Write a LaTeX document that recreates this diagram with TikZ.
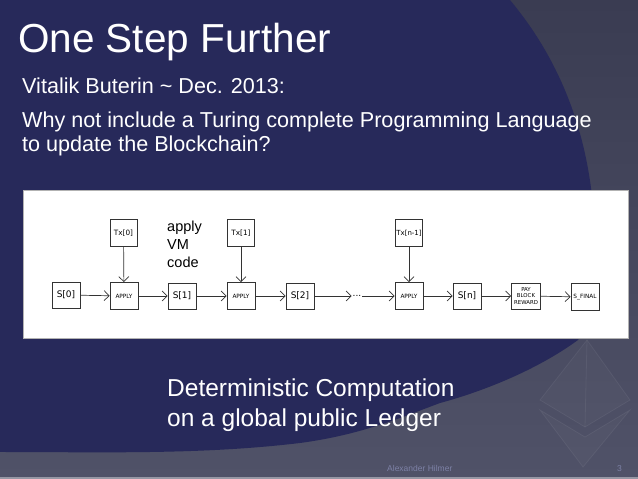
\documentclass[tikz,border=0pt]{standalone}
\usepackage{fontspec}
\setmainfont{Liberation Sans}
\newfontfamily\diafont{DejaVu Sans}
\usetikzlibrary{arrows.meta}
\definecolor{navy}{HTML}{27295A}
\definecolor{greytop}{HTML}{3A3C52}
\definecolor{greybot}{HTML}{505268}
\definecolor{footgrey}{HTML}{7D81A6}
\definecolor{boxline}{HTML}{333333}
\tikzset{
  statebox/.style={draw=boxline, line width=0.8pt, fill=white, inner sep=0pt,
    minimum width=28pt, minimum height=26pt, font=\diafont\fontsize{9}{10}\selectfont},
  applybox/.style={statebox, minimum height=27pt, font=\diafont\fontsize{5.8}{6}\selectfont},
  txbox/.style={statebox, minimum width=27pt, minimum height=27pt, font=\diafont\fontsize{7.3}{8}\selectfont},
  flow/.style={draw=boxline, line width=0.7pt, -{Straight Barb[length=5pt,width=10pt]}},
}
\begin{document}
\begin{tikzpicture}[x=1pt,y=1pt]
    \useasboundingbox (0,0) rectangle (638,479);
    % background
    \shade[top color=greytop, bottom color=greybot] (0,0) rectangle (638,479);
    \fill[navy] (0,479) -- (510,479) .. controls (560,419) and (595,339) .. (595,229)
        .. controls (595,179) and (590,154) .. (578,139)
        .. controls (530,104) and (470,84) .. (440,76)
        .. controls (400,61) and (360,44) .. (300,36)
        .. controls (200,24) and (100,27) .. (0,27) -- cycle;
    \fill[white!40!greybot] (0,0) rectangle (638,2);
    % faint logo
    \begin{scope}[draw=white, draw opacity=0.06, fill=white, fill opacity=0.025, line width=0.8pt]
        \filldraw (587,139) -- (540,79) -- (585,52) -- (630,79) -- cycle;
        \filldraw (540,69) -- (583,12) -- (630,69) -- (585,42) -- cycle;
        \draw (587,139) -- (585,52);
    \end{scope}
    % titles
    \node[anchor=base west, inner sep=0pt, text=white, font=\fontsize{40.5}{48}\selectfont] (title) at (18,426) {One Step Further};
    \node[anchor=base west, inner sep=0pt, text=white, font=\fontsize{21.6}{24}\selectfont] (who) at (22,385) {Vitalik Buterin \textasciitilde{} Dec. 2013:};
    \node[anchor=base west, inner sep=0pt, text=white, align=left, font=\fontsize{21.6}{24}\selectfont] (why) at (22,327) {Why not include a Turing complete Programming Language\\to update the Blockchain?};
    % diagram panel
    \filldraw[fill=white, draw=gray!60, line width=0.5pt] (23,141) rectangle (628,289);
    \node[statebox] (s0) at (66,184) {S[0]};
    \node[applybox] (a0) at (124,183) {APPLY};
    \node[txbox] (t0) at (123.5,246) {Tx[0]};
    \node[statebox] (s1) at (182,183) {S[1]};
    \node[applybox] (a1) at (241,183) {APPLY};
    \node[txbox] (t1) at (241,246) {Tx[1]};
    \node[statebox] (s2) at (300,183) {S[2]};
    \node[font=\diafont\fontsize{9}{10}\selectfont, inner sep=1pt] (dots) at (357,183) {...};
    \node[applybox] (a2) at (409,183) {APPLY};
    \node[txbox, font=\diafont\fontsize{7}{8}\selectfont] (t2) at (409,246) {Tx[n-1]};
    \node[statebox] (sn) at (467,183) {S[n]};
    \node[applybox, minimum width=29pt, minimum height=26pt, align=center, font=\diafont\fontsize{5.4}{6.4}\selectfont] (pay) at (526,183) {PAY\\BLOCK\\REWARD};
    \node[statebox, minimum height=27pt, font=\diafont\fontsize{5.8}{6}\selectfont] (sfinal) at (585,182) {S\_FINAL};
    \node[anchor=base west, inner sep=0pt, align=left, font=\fontsize{14.5}{18}\selectfont] (vm) at (167,211) {apply\\VM\\code};
    \foreach \a/\b in {s0/a0,a0/s1,s1/a1,a1/s2,s2/dots,dots/a2,a2/sn,sn/pay,pay/sfinal}
        \draw[flow] (\a) -- (\b);
    \foreach \t/\a in {t0/a0,t1/a1,t2/a2}
        \draw[flow] (\t) -- (\a);
    % bottom text
    \node[anchor=base west, inner sep=0pt, text=white, align=left, font=\fontsize{24.5}{30}\selectfont] (claim) at (167,52) {Deterministic Computation\\on a global public Ledger};
    \node[anchor=base west, inner sep=0pt, text=footgrey, font=\fontsize{8.5}{10}\selectfont] (author) at (387,7) {Alexander Hilmer};
    \node[anchor=base west, inner sep=0pt, text=footgrey, font=\fontsize{8.5}{10}\selectfont] (page) at (617,7) {3};
\end{tikzpicture}
\end{document}
